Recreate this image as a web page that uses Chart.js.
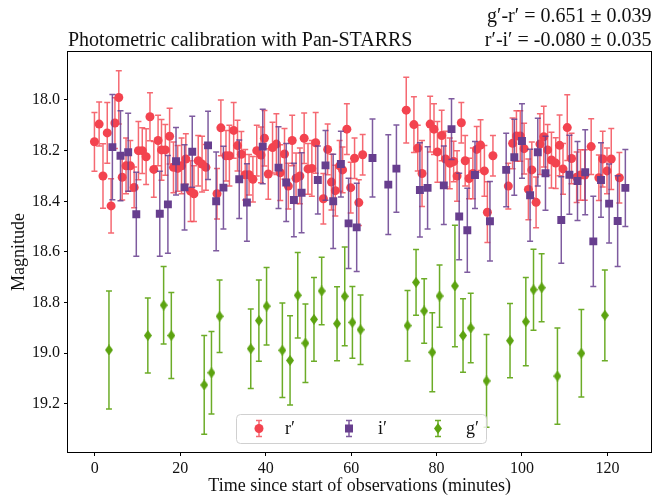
<!DOCTYPE html>
<html>
<head>
<meta charset="utf-8">
<script src="https://cdn.jsdelivr.net/npm/chart.js@4.4.0/dist/chart.umd.min.js"></script>
<style>
  html, body { margin: 0; padding: 0; background: #fff; }
  #wrap { width: 657px; height: 495px; }
</style>
</head>
<body>
<div id="wrap"><canvas id="chart" width="657" height="495"></canvas></div>
<script>
// r' band
var rTime = [-0.1, 1.0, 1.9, 2.9, 3.8, 4.7, 5.6, 6.4, 7.3, 8.3, 9.2, 10.2, 11.1, 12.0, 12.9, 13.8, 14.8, 15.6, 16.5, 17.5,
  18.4, 19.4, 20.3, 21.3, 22.4, 23.2, 24.2, 25.1, 26.0, 28.6, 29.5, 30.7, 31.5, 32.5, 33.4, 34.3, 35.2, 36.1, 37.0, 37.9,
  38.9, 39.7, 40.6, 41.6, 42.5, 43.4, 44.4, 45.3, 46.2, 47.1, 48.0, 49.0, 49.9, 50.8, 51.7, 53.5, 54.5, 55.4, 56.3, 57.3,
  58.0, 59.0, 59.9, 60.8, 61.8, 62.7, 72.9, 74.7, 75.6, 76.6, 78.5, 79.4, 80.2, 81.2, 82.1, 83.1, 84.0, 84.8, 85.8, 86.7,
  87.6, 88.5, 89.4, 90.3, 91.2, 91.9, 93.2, 96.8, 97.8, 98.7, 99.6, 100.5, 101.5, 102.3, 103.3, 104.2, 105.1, 106.0, 106.9, 107.9,
  108.8, 109.6, 110.6, 111.6, 112.8, 113.7, 114.7, 116.2, 118.0, 118.9, 119.9, 120.9, 122.8];
var rMag = [18.165, 18.095, 18.30, 18.13, 18.418, 18.091, 17.99, 18.305, 18.26, 18.26, 18.345, 18.20, 18.20, 18.224, 18.066, 18.274, 18.16, 18.197, 18.197, 18.143,
  18.266, 18.27, 18.26, 18.233, 18.36, 18.37, 18.24, 18.253, 18.266, 18.37, 18.11, 18.22, 18.22, 18.12, 18.18, 18.214, 18.295, 18.295, 18.313, 18.20,
  18.217, 18.151, 18.292, 18.188, 18.174, 18.287, 18.213, 18.34, 18.16, 18.309, 18.30, 18.151, 18.272, 18.27, 18.169, 18.39, 18.195, 18.324, 18.358, 18.26,
  18.276, 18.115, 18.346, 18.23, 18.405, 18.216, 18.04, 18.097, 18.19, 18.29, 18.095, 18.115, 18.205, 18.14, 18.233, 18.25, 18.243, 18.30, 18.09, 18.24,
  18.31, 18.29, 18.195, 18.178, 18.28, 18.443, 18.22, 18.34, 18.171, 18.142, 18.142, 18.192, 18.353, 18.276, 18.404, 18.174, 18.145, 18.197, 18.237, 18.249,
  18.179, 18.272, 18.109, 18.231, 18.305, 18.296, 18.296, 18.184, 18.307, 18.233, 18.28, 18.233, 18.307];
var rErr = [0.116, 0.087, 0.127, 0.12, 0.107, 0.10, 0.105, 0.09, 0.11, 0.10, 0.08, 0.115, 0.09, 0.11, 0.095, 0.11, 0.10, 0.12, 0.10, 0.11,
  0.10, 0.09, 0.11, 0.10, 0.12, 0.11, 0.10, 0.11, 0.09, 0.10, 0.11, 0.10, 0.12, 0.11, 0.10, 0.09, 0.10, 0.08, 0.09, 0.10,
  0.11, 0.11, 0.10, 0.10, 0.12, 0.11, 0.10, 0.09, 0.10, 0.10, 0.11, 0.10, 0.10, 0.11, 0.12, 0.10, 0.10, 0.11, 0.10, 0.10,
  0.09, 0.10, 0.10, 0.08, 0.09, 0.08, 0.13, 0.11, 0.09, 0.13, 0.11, 0.10, 0.12, 0.10, 0.11, 0.10, 0.08, 0.10, 0.08, 0.10,
  0.08, 0.10, 0.09, 0.10, 0.10, 0.12, 0.08, 0.09, 0.10, 0.10, 0.10, 0.10, 0.12, 0.11, 0.10, 0.12, 0.12, 0.10, 0.11, 0.10,
  0.12, 0.10, 0.13, 0.10, 0.10, 0.10, 0.10, 0.11, 0.09, 0.11, 0.09, 0.12, 0.10];

// i' band
var iTime = [4.1, 6.0, 7.8, 9.7, 15.2, 17.1, 19.0, 21.0, 22.8, 26.5, 28.4, 30.1, 33.8, 35.6, 39.3, 43.0, 44.8, 46.6, 48.4, 52.2,
  54.0, 55.8, 57.6, 59.4, 61.3, 65.0, 68.7, 70.6, 76.1, 77.9, 81.7, 83.5, 85.3, 87.2, 89.0, 92.5, 96.3, 98.2, 100.0, 101.9,
  103.7, 105.5, 109.2, 111.1, 113.0, 114.8, 116.7, 118.5, 120.4, 122.4, 124.2];
var iMag = [18.186, 18.22, 18.206, 18.451, 18.449, 18.412, 18.242, 18.345, 18.204, 18.179, 18.40, 18.346, 18.313, 18.405, 18.184, 18.267, 18.326, 18.395, 18.366, 18.316,
  18.258, 18.40, 18.253, 18.487, 18.503, 18.229, 18.334, 18.271, 18.355, 18.347, 18.337, 18.115, 18.46, 18.514, 18.296, 18.479, 18.276, 18.226, 18.162, 18.376,
  18.206, 18.289, 18.474, 18.295, 18.32, 18.285, 18.558, 18.316, 18.409, 18.478, 18.347];
var iErr = [0.208, 0.178, 0.154, 0.166, 0.168, 0.193, 0.133, 0.168, 0.14, 0.135, 0.195, 0.163, 0.155, 0.153, 0.147, 0.161, 0.154, 0.145, 0.158, 0.134,
  0.138, 0.186, 0.13, 0.178, 0.174, 0.154, 0.197, 0.172, 0.186, 0.162, 0.155, 0.12, 0.171, 0.166, 0.132, 0.157, 0.145, 0.15, 0.147, 0.182,
  0.134, 0.146, 0.171, 0.156, 0.156, 0.168, 0.178, 0.147, 0.156, 0.179, 0.152];

// g' band
var gTime = [3.3, 12.4, 16.1, 17.9, 25.6, 27.3, 29.2, 36.5, 38.4, 40.2, 43.9, 45.7, 47.5, 49.3, 51.3, 53.1, 56.7, 58.5, 60.3, 62.2,
  73.2, 75.2, 77.1, 79.0, 80.7, 84.3, 86.2, 88.0, 91.7, 97.2, 100.9, 102.7, 104.6, 108.3, 113.9, 119.4];
var gMag = [18.987, 18.93, 18.81, 18.93, 19.125, 19.077, 18.854, 18.982, 18.871, 18.814, 18.988, 19.028, 18.771, 18.96, 18.866, 18.754, 18.883, 18.775, 18.878, 18.907,
  18.891, 18.72, 18.833, 18.996, 18.774, 18.734, 18.93, 18.90, 19.109, 18.95, 18.875, 18.749, 18.741, 19.09, 19.0, 18.85];
var gErr = [0.233, 0.148, 0.153, 0.17, 0.195, 0.163, 0.143, 0.157, 0.16, 0.153, 0.187, 0.176, 0.169, 0.155, 0.165, 0.133, 0.146, 0.195, 0.142, 0.137,
  0.139, 0.13, 0.127, 0.156, 0.123, 0.24, 0.145, 0.137, 0.183, 0.147, 0.174, 0.16, 0.134, 0.19, 0.173, 0.179];

var xTicks = [0, 20, 40, 60, 80, 100, 120];
var yTicks = [18.0, 18.2, 18.4, 18.6, 18.8, 19.0, 19.2];

var FONT = "'Liberation Serif', 'Times New Roman', serif";
var RED = 'rgb(243, 67, 79)', PURPLE = 'rgb(103, 62, 142)', GREEN = 'rgb(92, 163, 16)';

function pts(t, m) {
  return t.map(function (v, i) { return { x: v, y: m[i] }; });
}

// thin diamond marker like matplotlib 'd'
function diamond(color, w, h) {
  var c = document.createElement('canvas');
  c.width = w; c.height = h;
  var g = c.getContext('2d');
  g.fillStyle = color;
  g.beginPath();
  g.moveTo(w / 2, 0); g.lineTo(w, h / 2); g.lineTo(w / 2, h); g.lineTo(0, h / 2);
  g.closePath(); g.fill();
  return c;
}
var gMarker = diamond(GREEN, 8, 11);

function drawBar(ctx, x, y1, y2, color) {
  ctx.strokeStyle = color;
  ctx.lineWidth = 1.5;
  ctx.beginPath();
  ctx.moveTo(x, y1); ctx.lineTo(x, y2);
  ctx.moveTo(x - 3, y1); ctx.lineTo(x + 3, y1);
  ctx.moveTo(x - 3, y2); ctx.lineTo(x + 3, y2);
  ctx.stroke();
}

// error bars under each dataset's markers
var errorBars = {
  id: 'errorBars',
  beforeDatasetDraw: function (chart, args) {
    var ds = chart.data.datasets[args.index];
    if (!ds.errors) return;
    var ctx = chart.ctx, xs = chart.scales.x, ys = chart.scales.y, a = chart.chartArea;
    ctx.save();
    ctx.beginPath();
    ctx.rect(a.left, a.top, a.right - a.left, a.bottom - a.top);
    ctx.clip();
    ds.data.forEach(function (p, i) {
      var x = xs.getPixelForValue(p.x);
      drawBar(ctx, x, ys.getPixelForValue(p.y - ds.errors[i]), ys.getPixelForValue(p.y + ds.errors[i]), ds.errorColor);
    });
    ctx.restore();
  }
};

// frame, titles and legend
var decor = {
  id: 'decor',
  afterDraw: function (chart) {
    var ctx = chart.ctx, a = chart.chartArea;
    ctx.save();
    ctx.strokeStyle = '#000';
    ctx.lineWidth = 1;
    ctx.strokeRect(Math.round(a.left) - 0.5, Math.round(a.top) - 0.5, Math.round(a.right - a.left) + 1, Math.round(a.bottom - a.top) + 1);

    ctx.fillStyle = '#111';
    ctx.font = '20px ' + FONT;
    ctx.textBaseline = 'alphabetic';
    ctx.textAlign = 'left';
    ctx.fillText('Photometric calibration with Pan-STARRS', a.left, 46);
    ctx.textAlign = 'right';
    ctx.fillText('g\u2032-r\u2032 = 0.651 \u00b1 0.039', a.right, 22);
    ctx.fillText('r\u2032-i\u2032 = -0.080 \u00b1 0.035', a.right, 46);

    // legend box
    var lx = 236, ly = 414, lw = 250, lh = 29;
    ctx.beginPath();
    ctx.roundRect(lx + 0.5, ly + 0.5, lw, lh, 4);
    ctx.fillStyle = 'rgba(255,255,255,0.8)';
    ctx.fill();
    ctx.strokeStyle = '#d0d0d0';
    ctx.lineWidth = 1;
    ctx.stroke();

    var my = 428.5;
    var items = chart.data.datasets;
    var mx = [259, 349, 438];
    var tx = [285, 378, 466];
    items.forEach(function (ds, k) {
      drawBar(ctx, mx[k], my - 8, my + 8, ds.errorColor);
      ctx.fillStyle = ds.backgroundColor;
      if (k === 0) {
        ctx.beginPath(); ctx.arc(mx[k], my, 4.5, 0, Math.PI * 2); ctx.fill();
      } else if (k === 1) {
        ctx.fillRect(mx[k] - 4, my - 4, 8, 8);
      } else {
        ctx.drawImage(gMarker, mx[k] - 4, my - 5.5);
      }
      ctx.fillStyle = '#111';
      ctx.font = '18px ' + FONT;
      ctx.textAlign = 'left';
      ctx.fillText(ds.label, tx[k], 434);
    });
    ctx.restore();
  }
};

new Chart(document.getElementById('chart').getContext('2d'), {
  type: 'scatter',
  data: {
    datasets: [{
      label: 'r\u2032',
      data: pts(rTime, rMag),
      errors: rErr,
      errorColor: 'rgba(243, 67, 79, 0.8)',
      backgroundColor: RED,
      pointStyle: 'circle',
      pointRadius: 4.5,
      borderWidth: 0,
      order: 3
    }, {
      label: 'i\u2032',
      data: pts(iTime, iMag),
      errors: iErr,
      errorColor: 'rgba(103, 62, 142, 0.85)',
      backgroundColor: PURPLE,
      pointStyle: 'rect',
      pointRadius: 5.6,
      borderWidth: 0,
      order: 2
    }, {
      label: 'g\u2032',
      data: pts(gTime, gMag),
      errors: gErr,
      errorColor: 'rgba(92, 163, 16, 0.9)',
      backgroundColor: GREEN,
      pointStyle: gMarker,
      pointRadius: 5,
      borderWidth: 0,
      order: 1
    }]
  },
  options: {
    responsive: false,
    animation: false,
    layout: { padding: { top: 52, right: 3, left: 0, bottom: 0 } },
    scales: {
      x: {
        type: 'linear',
        min: -6.29,
        max: 130.3,
        afterFit: function (s) { s.height = 43; },
        afterBuildTicks: function (s) { s.ticks = xTicks.map(function (v) { return { value: v }; }); },
        ticks: { color: '#111', padding: 3, font: { family: FONT, size: 16 }, maxRotation: 0 },
        grid: { drawOnChartArea: false, drawTicks: true, tickLength: 4, tickColor: '#000', lineWidth: 1 },
        border: { display: false },
        title: {
          display: true,
          text: 'Time since start of observations (minutes)',
          color: '#111',
          font: { family: FONT, size: 18 },
          padding: { top: 0, bottom: -2 }
        }
      },
      y: {
        type: 'linear',
        reverse: true,
        min: 17.8105,
        max: 19.3897,
        afterFit: function (s) { s.width = 68; },
        afterBuildTicks: function (s) { s.ticks = yTicks.map(function (v) { return { value: v }; }); },
        ticks: {
          color: '#111',
          padding: 4,
          font: { family: FONT, size: 16 },
          callback: function (v) { return v.toFixed(1); }
        },
        grid: { drawOnChartArea: false, drawTicks: true, tickLength: 4, tickColor: '#000', lineWidth: 1 },
        border: { display: false },
        title: {
          display: true,
          text: 'Magnitude',
          color: '#111',
          font: { family: FONT, size: 18 },
          padding: { top: 8, bottom: 0 }
        }
      }
    },
    plugins: {
      legend: { display: false },
      tooltip: { enabled: false }
    }
  },
  plugins: [errorBars, decor]
});
</script>
</body>
</html>
